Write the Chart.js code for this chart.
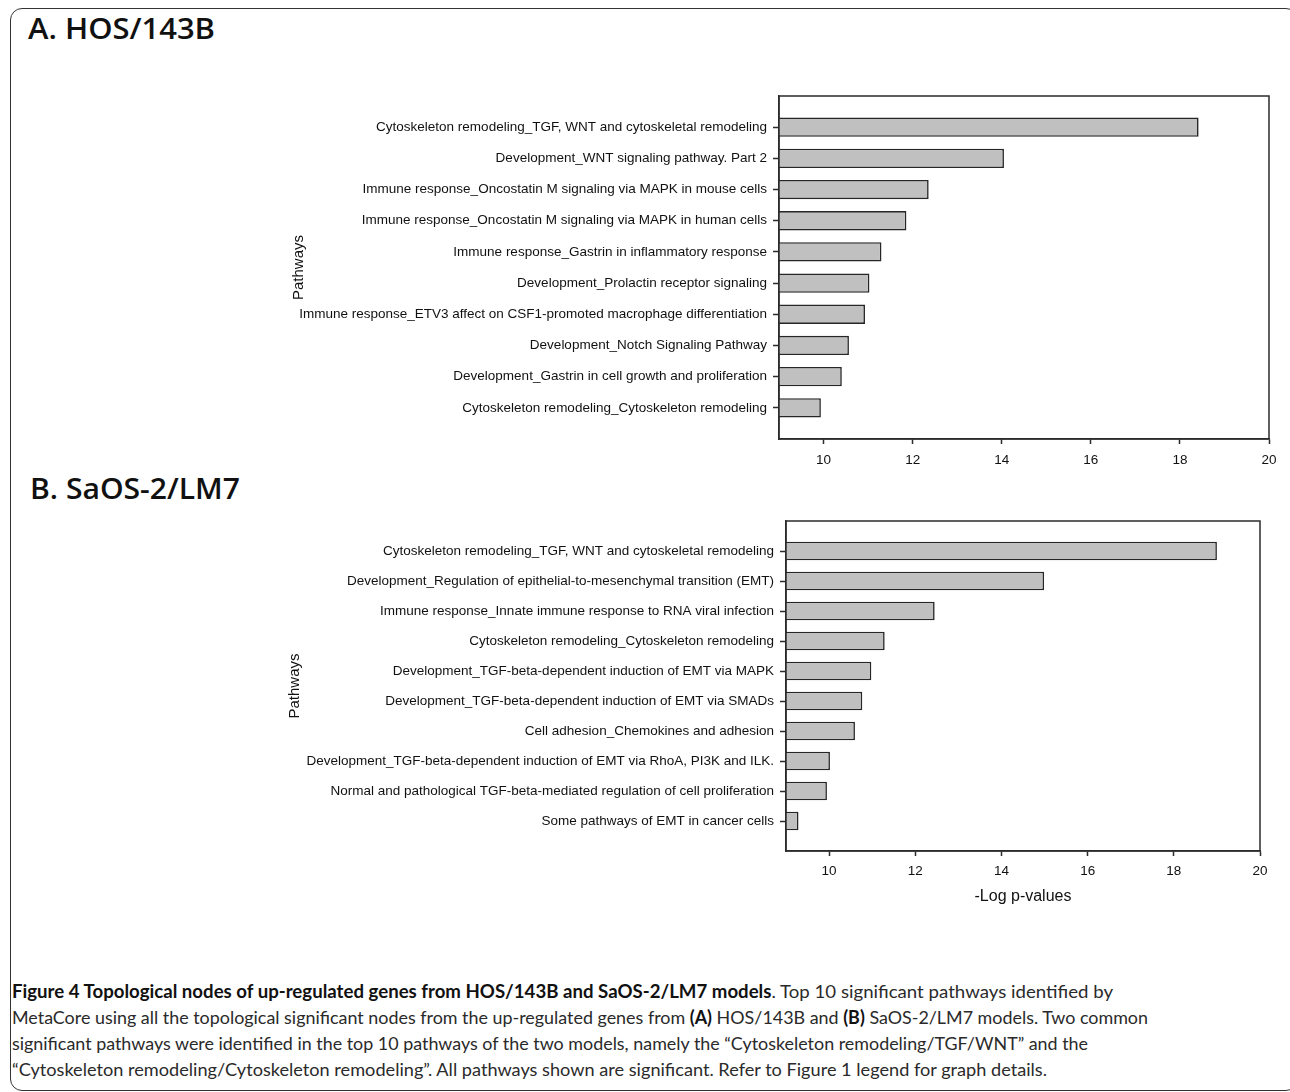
<!DOCTYPE html>
<html>
<head>
<meta charset="utf-8">
<title>Topological nodes of up-regulated genes</title>
<script src="https://cdn.jsdelivr.net/npm/chart.js@4.4.1/dist/chart.umd.min.js"></script>
<style>
  html, body { margin: 0; padding: 0; background: #fff; }
  body { width: 1290px; height: 1092px; position: relative; overflow: hidden; }
  .frame {
    position: absolute; left: 10px; top: 8px; width: 1288px; height: 1083px;
    border: 1.5px solid #333; border-radius: 12px; box-sizing: border-box;
  }
  .panel-title {
    position: absolute; font-family: "Open Sans", sans-serif; font-weight: 600;
    font-size: 29px; line-height: 29px; color: #111; white-space: nowrap;
    transform-origin: left center;
  }
  canvas { position: absolute; left: 0; }
  .caption {
    position: absolute; left: 12px; top: 978px;
    font-family: Lato, "Open Sans", sans-serif; font-size: 18px; line-height: 26px; color: #2a2a2a;
  }
  .caption .ln { white-space: nowrap; transform-origin: left center; width: max-content; }
  .caption b { font-weight: 700; color: #111; }
</style>
</head>
<body>
<div class="frame"></div>
<div class="panel-title" id="titleA" style="left:28px; top:13px;">A. HOS/143B</div>
<div class="panel-title" id="titleB" style="left:30px; top:473px;">B. SaOS-2/LM7</div>
<canvas id="chartA" width="1290" height="420" style="top:60px;width:1290px;height:420px;"></canvas>
<canvas id="chartB" width="1290" height="410" style="top:500px;width:1290px;height:410px;"></canvas>
<div class="caption">
  <div class="ln" data-w="1101"><b>Figure 4 Topological nodes of up-regulated genes from HOS/143B and SaOS-2/LM7 models</b>. Top 10 significant pathways identified by</div>
  <div class="ln" data-w="1136">MetaCore using all the topological significant nodes from the up-regulated genes from <b>(A)</b> HOS/143B and <b>(B)</b> SaOS-2/LM7 models. Two common</div>
  <div class="ln" data-w="1076">significant pathways were identified in the top 10 pathways of the two models, namely the “Cytoskeleton remodeling/TGF/WNT” and the</div>
  <div class="ln" data-w="1035">“Cytoskeleton remodeling/Cytoskeleton remodeling”. All pathways shown are significant. Refer to Figure 1 legend for graph details.</div>
</div>
<script>
// Pathways ranked by significance, HOS/143B model
const hosPathways = [
  "Cytoskeleton remodeling_TGF, WNT and cytoskeletal remodeling",
  "Development_WNT signaling pathway. Part 2",
  "Immune response_Oncostatin M signaling via MAPK in mouse cells",
  "Immune response_Oncostatin M signaling via MAPK in human cells",
  "Immune response_Gastrin in inflammatory response",
  "Development_Prolactin receptor signaling",
  "Immune response_ETV3 affect on CSF1-promoted macrophage differentiation",
  "Development_Notch Signaling Pathway",
  "Development_Gastrin in cell growth and proliferation",
  "Cytoskeleton remodeling_Cytoskeleton remodeling"
];
const hosLogP = [18.42, 14.05, 12.36, 11.86, 11.30, 11.03, 10.93, 10.57, 10.41, 9.94];

// Pathways ranked by significance, SaOS-2/LM7 model
const saosPathways = [
  "Cytoskeleton remodeling_TGF, WNT and cytoskeletal remodeling",
  "Development_Regulation of epithelial-to-mesenchymal transition (EMT)",
  "Immune response_Innate immune response to RNA viral infection",
  "Cytoskeleton remodeling_Cytoskeleton remodeling",
  "Development_TGF-beta-dependent induction of EMT via MAPK",
  "Development_TGF-beta-dependent induction of EMT via SMADs",
  "Cell adhesion_Chemokines and adhesion",
  "Development_TGF-beta-dependent induction of EMT via RhoA, PI3K and ILK.",
  "Normal and pathological TGF-beta-mediated regulation of cell proliferation",
  "Some pathways of EMT in cancer cells"
];
const saosLogP = [19.00, 14.99, 12.45, 11.29, 10.98, 10.77, 10.60, 10.02, 9.95, 9.29];

// Shared -log p axis
const logPTicks = [10, 12, 14, 16, 18, 20];
const logPMin = 9;
const logPMax = 20;

const INK = '#2b2b2b';
const TICK_FONT = { family: 'Liberation Sans, Arial, sans-serif', size: 13.5 };

// Closed box around the plot area
const plotBox = {
  id: 'plotBox',
  afterDraw(chart) {
    const { ctx, chartArea: a } = chart;
    ctx.save();
    ctx.strokeStyle = INK;
    ctx.lineWidth = 1.5;
    ctx.strokeRect(a.left, a.top, a.right - a.left, a.bottom - a.top);
    ctx.restore();
  }
};

function drawPanel(canvasId, labels, values, geom) {
  const points = values.map((v, i) => ({ x: v, y: i + 1 }));
  return new Chart(document.getElementById(canvasId), {
    type: 'bar',
    data: {
      datasets: [{
        data: points,
        base: logPMin,
        backgroundColor: '#c0c0c0',
        borderColor: '#262626',
        borderWidth: 1.6,
        borderSkipped: 'start',
        barPercentage: 0.62,
        categoryPercentage: 1.0
      }]
    },
    options: {
      indexAxis: 'y',
      responsive: false,
      animation: false,
      events: [],
      layout: { padding: geom.padding },
      plugins: { legend: { display: false }, tooltip: { enabled: false } },
      scales: {
        x: {
          type: 'linear',
          position: 'bottom',
          min: logPMin,
          max: logPMax,
          afterBuildTicks: s => { s.ticks = logPTicks.map(v => ({ value: v })); },
          afterFit: s => { s.height = geom.xHeight; },
          grid: { drawOnChartArea: false, drawTicks: true, tickLength: 5, tickColor: INK, tickWidth: 1.5 },
          border: { display: true, color: INK, width: 1.5 },
          ticks: { color: '#111', font: TICK_FONT, padding: geom.xPad, maxRotation: 0 },
          title: {
            display: geom.xTitle,
            text: '-Log p-values',
            color: '#111',
            font: { family: 'Liberation Sans, Arial, sans-serif', size: 16 },
            padding: { top: 4, bottom: 4 }
          }
        },
        y: {
          type: 'linear',
          position: 'left',
          reverse: true,
          offset: false,
          min: 0,
          max: labels.length + 1,
          afterBuildTicks: s => { s.ticks = labels.map((_, i) => ({ value: i + 1 })); },
          afterFit: s => { s.width = geom.yWidth; },
          grid: { offset: false, drawOnChartArea: false, drawTicks: true, tickLength: 6, tickColor: INK, tickWidth: 1.5 },
          border: { display: true, color: INK, width: 1.5 },
          ticks: {
            autoSkip: false,
            color: '#111',
            font: TICK_FONT,
            padding: 6,
            callback: v => labels[v - 1] || ''
          },
          title: {
            display: true,
            text: 'Pathways',
            color: '#111',
            font: { family: 'Liberation Sans, Arial, sans-serif', size: 15 },
            padding: { top: geom.yTitlePad, bottom: 4 }
          }
        }
      }
    },
    plugins: [plotBox]
  });
}

drawPanel('chartA', hosPathways, hosLogP, {
  padding: { left: 262, right: 21, top: 36, bottom: 0 },
  yWidth: 517, yTitlePad: 28, xHeight: 41, xPad: 8, xTitle: false
});
drawPanel('chartB', saosPathways, saosLogP, {
  padding: { left: 262, right: 30, top: 21, bottom: 0 },
  yWidth: 524, yTitlePad: 24, xHeight: 59, xPad: 7, xTitle: true
});

// Condense caption lines and panel headings to their set widths
function fitWidth(el, target) {
  el.style.transform = 'none';
  const w = el.getBoundingClientRect().width;
  if (w > 0) el.style.transform = 'scaleX(' + (target / w) + ')';
}
function fitText() {
  document.querySelectorAll('.caption .ln').forEach(el => fitWidth(el, +el.dataset.w));
  fitWidth(document.getElementById('titleA'), 187);
  fitWidth(document.getElementById('titleB'), 210);
}
fitText();
if (document.fonts && document.fonts.ready) document.fonts.ready.then(fitText);
</script>
</body>
</html>
